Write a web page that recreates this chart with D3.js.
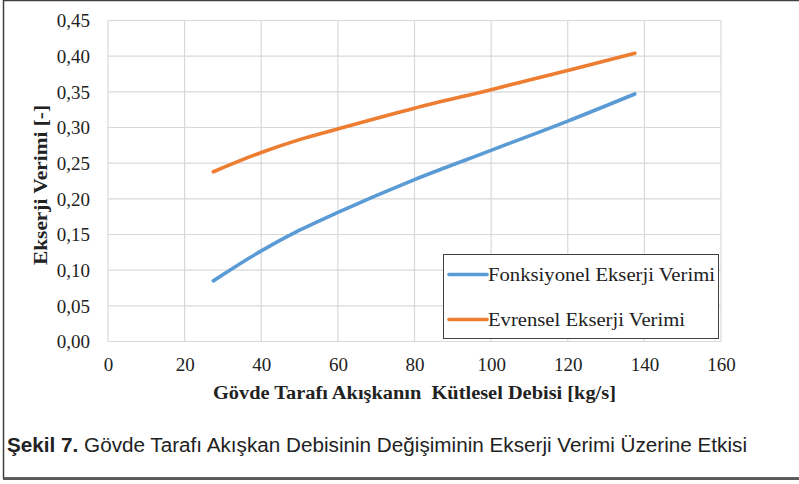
<!DOCTYPE html>
<html>
<head>
<meta charset="utf-8">
<script src="https://cdn.jsdelivr.net/npm/d3@7"></script>
<style>
  html, body { margin: 0; padding: 0; background: #fff; }
  svg { display: block; }
</style>
</head>
<body>
<svg id="chart" width="799" height="484"></svg>
<script>
// ---- data ----
const seriesNames = ["Fonksiyonel Ekserji Verimi", "Evrensel Ekserji Verimi"];
const massFlow = [27.5, 40, 50, 60, 80, 100, 120, 137.5];
const fonksiyonel = [0.085, 0.127, 0.156, 0.181, 0.227, 0.268, 0.309, 0.347];
const evrensel = [0.238, 0.265, 0.283, 0.298, 0.327, 0.353, 0.380, 0.404];
const xTicks = [0, 20, 40, 60, 80, 100, 120, 140, 160];
const yTicks = [0, 0.05, 0.10, 0.15, 0.20, 0.25, 0.30, 0.35, 0.40, 0.45];
const xTitle = "Gövde Tarafı Akışkanın\u00a0 Kütlesel Debisi [kg/s]";
const yTitle = "Ekserji Verimi [-]";
const captionBold = "Şekil 7.";
const captionText = " Gövde Tarafı Akışkan Debisinin Değişiminin Ekserji Verimi Üzerine Etkisi";

const colors = ["#5b9bd5", "#ed7d31"];
const serif = "Liberation Serif, Times New Roman, serif";
const svg = d3.select("#chart");

// outer frame
svg.append("rect").attr("x", 3.5).attr("y", 0.5).attr("width", 810).attr("height", 477.5)
  .attr("fill", "none").attr("stroke", "#404040").attr("stroke-width", 1.5);
svg.append("line").attr("x1", 3).attr("x2", 799).attr("y1", 478.8).attr("y2", 478.8)
  .attr("stroke", "#595959").attr("stroke-width", 2.4);

const L = 108, R = 721, T = 20.5, B = 341.5;
const x = d3.scaleLinear().domain([0, 160]).range([L, R]);
const y = d3.scaleLinear().domain([0, 0.45]).range([B, T]);

const fmt = d => d3.format(".2f")(d).replace(".", ",");

// gridlines
const g = svg.append("g");
g.selectAll(".hg").data(yTicks).join("line")
  .attr("x1", L).attr("x2", R).attr("y1", d => y(d)).attr("y2", d => y(d))
  .attr("stroke", "#d9d9d9").attr("stroke-width", 1.2);
g.selectAll(".vg").data(xTicks).join("line")
  .attr("x1", d => x(d)).attr("x2", d => x(d)).attr("y1", T).attr("y2", B)
  .attr("stroke", "#d9d9d9").attr("stroke-width", 1.2);

// axes (labels only)
const yAxis = d3.axisLeft(y).tickValues(yTicks).tickFormat(fmt).tickSize(0).tickPadding(18);
const ya = svg.append("g").attr("transform", `translate(${L},0)`).call(yAxis);
ya.select(".domain").remove();
ya.selectAll("text").attr("font-family", serif)
  .attr("font-size", 19).attr("fill", "#222").attr("dy", "0.34em");

const xAxis = d3.axisBottom(x).tickValues(xTicks).tickFormat(d3.format("d")).tickSize(0).tickPadding(16);
const xa = svg.append("g").attr("transform", `translate(0,${B})`).call(xAxis);
xa.select(".domain").remove();
xa.selectAll("text").attr("font-family", serif)
  .attr("font-size", 19).attr("fill", "#222");

// lines
const lineGen = d3.line().x(d => x(d[0])).y(d => y(d[1])).curve(d3.curveMonotoneX);
[fonksiyonel, evrensel].forEach((vals, i) => {
  svg.append("path")
    .datum(massFlow.map((m, j) => [m, vals[j]]))
    .attr("d", lineGen)
    .attr("fill", "none").attr("stroke", colors[i]).attr("stroke-width", 3.6)
    .attr("stroke-linecap", "round").attr("stroke-linejoin", "round");
});

// legend
const legendLens = [227, 197];
const lg = svg.append("g");
lg.append("rect").attr("x", 443.5).attr("y", 254.5).attr("width", 275).attr("height", 84)
  .attr("fill", "#fff").attr("stroke", "#404040").attr("stroke-width", 1);
seriesNames.forEach((n, i) => {
  const ly = 274.5 + i * 45;
  lg.append("line").attr("x1", 449).attr("x2", 487).attr("y1", ly).attr("y2", ly)
    .attr("stroke", colors[i]).attr("stroke-width", 3.6).attr("stroke-linecap", "round");
  lg.append("text").attr("x", 488).attr("y", ly).attr("dy", "0.34em")
    .attr("font-family", serif).attr("font-size", 19)
    .attr("textLength", legendLens[i]).attr("lengthAdjust", "spacingAndGlyphs")
    .attr("fill", "#222").text(n);
});

// axis titles
svg.append("text").attr("x", (L + R) / 2).attr("y", 399).attr("text-anchor", "middle")
  .attr("font-family", serif).attr("font-size", 18)
  .attr("textLength", 403).attr("lengthAdjust", "spacingAndGlyphs")
  .attr("font-weight", "bold").attr("fill", "#222").text(xTitle);
svg.append("text").attr("transform", `translate(47,${(T + B) / 2 + 4}) rotate(-90)`)
  .attr("text-anchor", "middle")
  .attr("font-family", serif).attr("font-size", 18)
  .attr("textLength", 160).attr("lengthAdjust", "spacingAndGlyphs")
  .attr("font-weight", "bold").attr("fill", "#222").text(yTitle);

// caption
const cap = svg.append("text").attr("x", 7).attr("y", 452)
  .attr("font-family", "Liberation Sans, Arial, sans-serif").attr("font-size", 19.5)
  .attr("fill", "#222").attr("textLength", 740).attr("lengthAdjust", "spacingAndGlyphs");
cap.append("tspan").attr("font-weight", "bold").text(captionBold);
cap.append("tspan").text(captionText);
</script>
</body>
</html>
